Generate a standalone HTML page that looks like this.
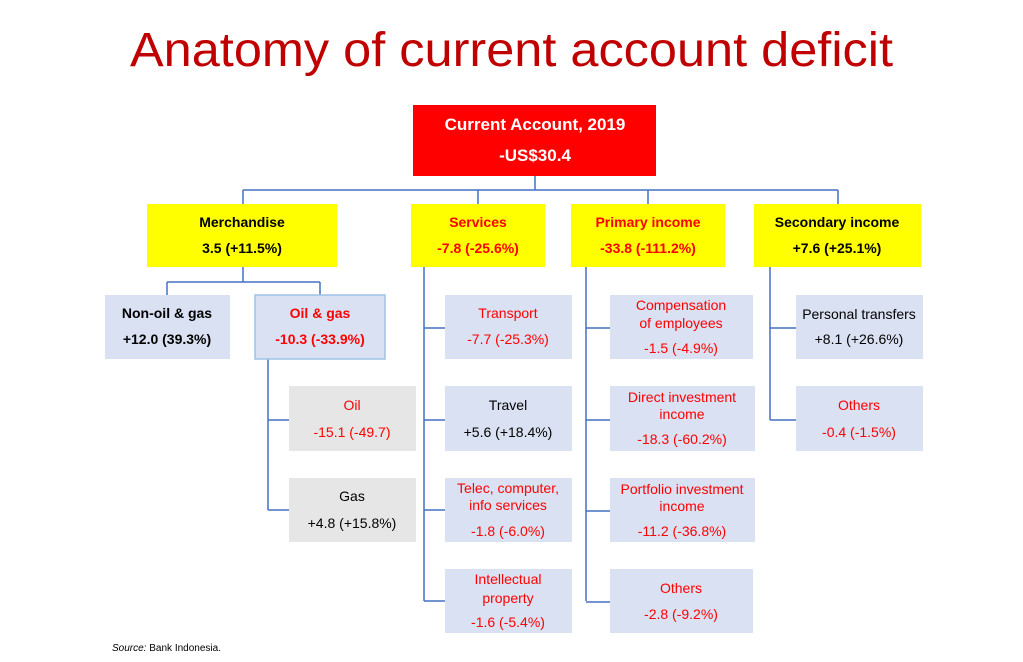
<!DOCTYPE html>
<html><head><meta charset="utf-8"><style>
html,body{margin:0;padding:0;background:#fff;}
svg{display:block;}
text{font-family:"Liberation Sans",sans-serif;}
</style></head><body>
<svg width="1023" height="662" viewBox="0 0 1023 662" xmlns="http://www.w3.org/2000/svg">
<text x="130" y="66" font-size="48" fill="#c00000" textLength="763" lengthAdjust="spacingAndGlyphs">Anatomy of current account deficit</text>

<g stroke="#4472c4" stroke-width="1.5" fill="none">
<path d="M535 176V190M243 190H838M243 190V204M478 190V204M648 190V204M838 190V204"/>
<path d="M243 267V282M167 282H320M167 282V295M320 282V295"/>
<path d="M268 359V510M268 420H290M268 510H290"/>
<path d="M424 267V601M424 328H446M424 420H446M424 510H446M424 601H446"/>
<path d="M586 267V601M586 328H610M586 420H610M586 511H610M586 602H610"/>
<path d="M770 267V420M770 328H796M770 420H796"/>
</g>

<rect x="413" y="105" width="243" height="71" fill="#ff0000"/>
<text x="535" y="130" font-size="17" font-weight="bold" fill="#fff" text-anchor="middle">Current Account, 2019</text>
<text x="535" y="161" font-size="17" font-weight="bold" fill="#fff" text-anchor="middle">-US$30.4</text>

<g font-size="14" font-weight="bold" text-anchor="middle">
<rect x="147" y="204" width="190" height="63" fill="#ffff00"/>
<text x="242" y="227" fill="#000">Merchandise</text><text x="242" y="253" fill="#000">3.5 (+11.5%)</text>
<rect x="411" y="204" width="134" height="63" fill="#ffff00"/>
<text x="478" y="227" fill="#ff0000">Services</text><text x="478" y="253" fill="#ff0000">-7.8 (-25.6%)</text>
<rect x="571" y="204" width="154" height="63" fill="#ffff00"/>
<text x="648" y="227" fill="#ff0000">Primary income</text><text x="648" y="253" fill="#ff0000">-33.8 (-111.2%)</text>
<rect x="754" y="204" width="167" height="63" fill="#ffff00"/>
<text x="837" y="227" fill="#000">Secondary income</text><text x="837" y="253" fill="#000">+7.6 (+25.1%)</text>

<rect x="105" y="295" width="125" height="64" fill="#d9e1f2"/>
<text x="167" y="318" fill="#000">Non-oil &amp; gas</text><text x="167" y="344" fill="#000">+12.0 (39.3%)</text>
<rect x="255" y="295" width="130" height="64" fill="#d9e1f2" stroke="#9dc3e6" stroke-width="1.5"/>
<text x="320" y="318" fill="#ff0000">Oil &amp; gas</text><text x="320" y="344" fill="#ff0000">-10.3 (-33.9%)</text>
</g>

<g font-size="14" text-anchor="middle">
<rect x="289" y="386" width="127" height="65" fill="#e7e6e6"/>
<text x="352" y="410" fill="#ff0000">Oil</text><text x="352" y="437" fill="#ff0000">-15.1 (-49.7)</text>
<rect x="289" y="478" width="127" height="64" fill="#e7e6e6"/>
<text x="352" y="501" fill="#000">Gas</text><text x="352" y="528" fill="#000">+4.8 (+15.8%)</text>

<rect x="445" y="295" width="127" height="64" fill="#d9e1f2"/>
<text x="508" y="318" fill="#ff0000">Transport</text><text x="508" y="344" fill="#ff0000">-7.7 (-25.3%)</text>
<rect x="445" y="386" width="127" height="65" fill="#d9e1f2"/>
<text x="508" y="410" fill="#000">Travel</text><text x="508" y="437" fill="#000">+5.6 (+18.4%)</text>
<rect x="445" y="478" width="127" height="64" fill="#d9e1f2"/>
<text x="508" y="493" fill="#ff0000">Telec, computer,</text><text x="508" y="510" fill="#ff0000">info services</text><text x="508" y="536" fill="#ff0000">-1.8 (-6.0%)</text>
<rect x="445" y="569" width="127" height="64" fill="#d9e1f2"/>
<text x="508" y="584" fill="#ff0000">Intellectual</text><text x="508" y="603" fill="#ff0000">property</text><text x="508" y="627" fill="#ff0000">-1.6 (-5.4%)</text>

<rect x="610" y="295" width="143" height="64" fill="#d9e1f2"/>
<text x="681" y="310" fill="#ff0000">Compensation</text><text x="681" y="328" fill="#ff0000">of employees</text><text x="681" y="353" fill="#ff0000">-1.5 (-4.9%)</text>
<rect x="610" y="386" width="145" height="65" fill="#d9e1f2"/>
<text x="682" y="402" fill="#ff0000">Direct investment</text><text x="682" y="419" fill="#ff0000">income</text><text x="682" y="444" fill="#ff0000">-18.3 (-60.2%)</text>
<rect x="610" y="478" width="145" height="64" fill="#d9e1f2"/>
<text x="682" y="494" fill="#ff0000">Portfolio investment</text><text x="682" y="511" fill="#ff0000">income</text><text x="682" y="536" fill="#ff0000">-11.2 (-36.8%)</text>
<rect x="610" y="569" width="143" height="64" fill="#d9e1f2"/>
<text x="681" y="593" fill="#ff0000">Others</text><text x="681" y="619" fill="#ff0000">-2.8 (-9.2%)</text>

<rect x="796" y="295" width="127" height="64" fill="#d9e1f2"/>
<text x="859" y="319" fill="#000">Personal transfers</text><text x="859" y="344" fill="#000">+8.1 (+26.6%)</text>
<rect x="796" y="386" width="127" height="65" fill="#d9e1f2"/>
<text x="859" y="410" fill="#ff0000">Others</text><text x="859" y="437" fill="#ff0000">-0.4 (-1.5%)</text>
</g>

<text x="112" y="651" font-size="10" fill="#000"><tspan font-style="italic">Source:</tspan> Bank Indonesia.</text>
</svg>
</body></html>
